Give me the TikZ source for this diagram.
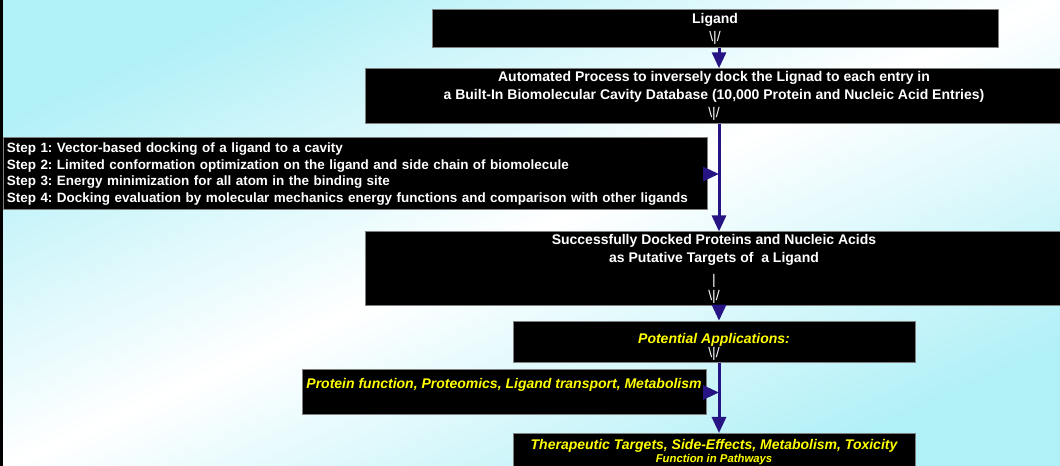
\documentclass[tikz,border=0pt]{standalone}
\usepackage{fontspec}
\setmainfont{Liberation Sans}
\usetikzlibrary{arrows.meta}
\definecolor{arrblue}{RGB}{38,20,132}
\definecolor{bgcyan}{RGB}{176,240,247}
\definecolor{boxline}{RGB}{128,128,128}
\definecolor{txtyellow}{RGB}{255,255,0}
\newcommand{\psig}{{\mdseries\upshape\textbackslash\textbar/}}
\frenchspacing
\tikzset{
  blk/.style={draw=boxline, line width=0.75pt, fill=black, inner sep=2pt},
  wtxt/.style={text=white, font=\bfseries\fontsize{10.5}{13.5}\selectfont, align=center},
  ytxt/.style={text=txtyellow, font=\bfseries\itshape\fontsize{10.5}{13.5}\selectfont, align=center},
  arr/.style={draw=arrblue, line width=2.25pt, -{Triangle[length=12pt, width=10.5pt]}}
}
\begin{document}
\begin{tikzpicture}[x=0.75pt, y=-0.75pt]
    \useasboundingbox (0,0) rectangle (1060,466);
    \shade[top color=bgcyan, bottom color=bgcyan, middle color=white, shading angle=24]
        (0,0) rectangle (1060,466);
    \fill[black] (0,0) rectangle (3,466);
    % boxes
    \node[blk, wtxt, minimum width=424.5pt, minimum height=28.5pt] (lig) at (715,29)
        {Ligand\\\psig};
    \node[blk, wtxt, minimum width=523pt, minimum height=39pt] (auto) at (714,96)
        {Automated Process to inversely dock the Lignad to each entry in\\
         a Built-In Biomolecular Cavity Database (10,000 Protein and Nucleic Acid Entries)\\\psig};
    \node[blk, wtxt, align=left, font=\bfseries\fontsize{10.1}{12.4}\selectfont,
          text width=523pt, inner xsep=2.5pt, minimum height=54pt] (steps) at (355.5,174)
        {Step 1: Vector-based docking of a ligand to a cavity\\
         Step 2: Limited conformation optimization on the ligand and side chain of biomolecule\\
         Step 3: Energy minimization for all atom in the binding site\\
         Step 4: Docking evaluation by molecular mechanics energy functions and comparison with other ligands};
    \node[blk, wtxt, minimum width=523pt, minimum height=55.5pt] (dock) at (714,269)
        {Successfully Docked Proteins and Nucleic Acids\\
         as Putative Targets of\ \ a Ligand\\[3pt]{\mdseries\textbar}\\[-2pt]\psig};
    \node[blk, ytxt, minimum width=301.5pt, minimum height=30pt, text height=25pt] (apps) at (714,342)
        {Potential Applications:\\[-3pt]{\color{white}\psig}};
    \node[blk, ytxt, minimum width=303pt, minimum height=33.75pt, text depth=13pt] (uses) at (504,392.5)
        {Protein function, Proteomics, Ligand transport, Metabolism};
    \node[blk, ytxt, minimum width=301.5pt, inner ysep=0.5pt, text height=21pt, text depth=12pt,
          anchor=north] (ther) at (714,433)
        {Therapeutic Targets, Side-Effects, Metabolism, Toxicity\\[-4pt]
         {\fontsize{8.5}{10}\selectfont Function in Pathways}};
    % connectors
    \coordinate (sp) at (719,0);
    \draw[arr] (lig.south -| sp) -- (auto.north -| sp);
    \draw[arr] (auto.south -| sp) -- (dock.north -| sp);
    \draw[arr] (steps.east) -- (steps.east -| sp);
    \draw[arr] (dock.south -| sp) -- (apps.north -| sp);
    \draw[arr] (apps.south -| sp) -- (ther.north -| sp);
    \draw[arr] (uses.east) -- (uses.east -| sp);
\end{tikzpicture}
\end{document}
